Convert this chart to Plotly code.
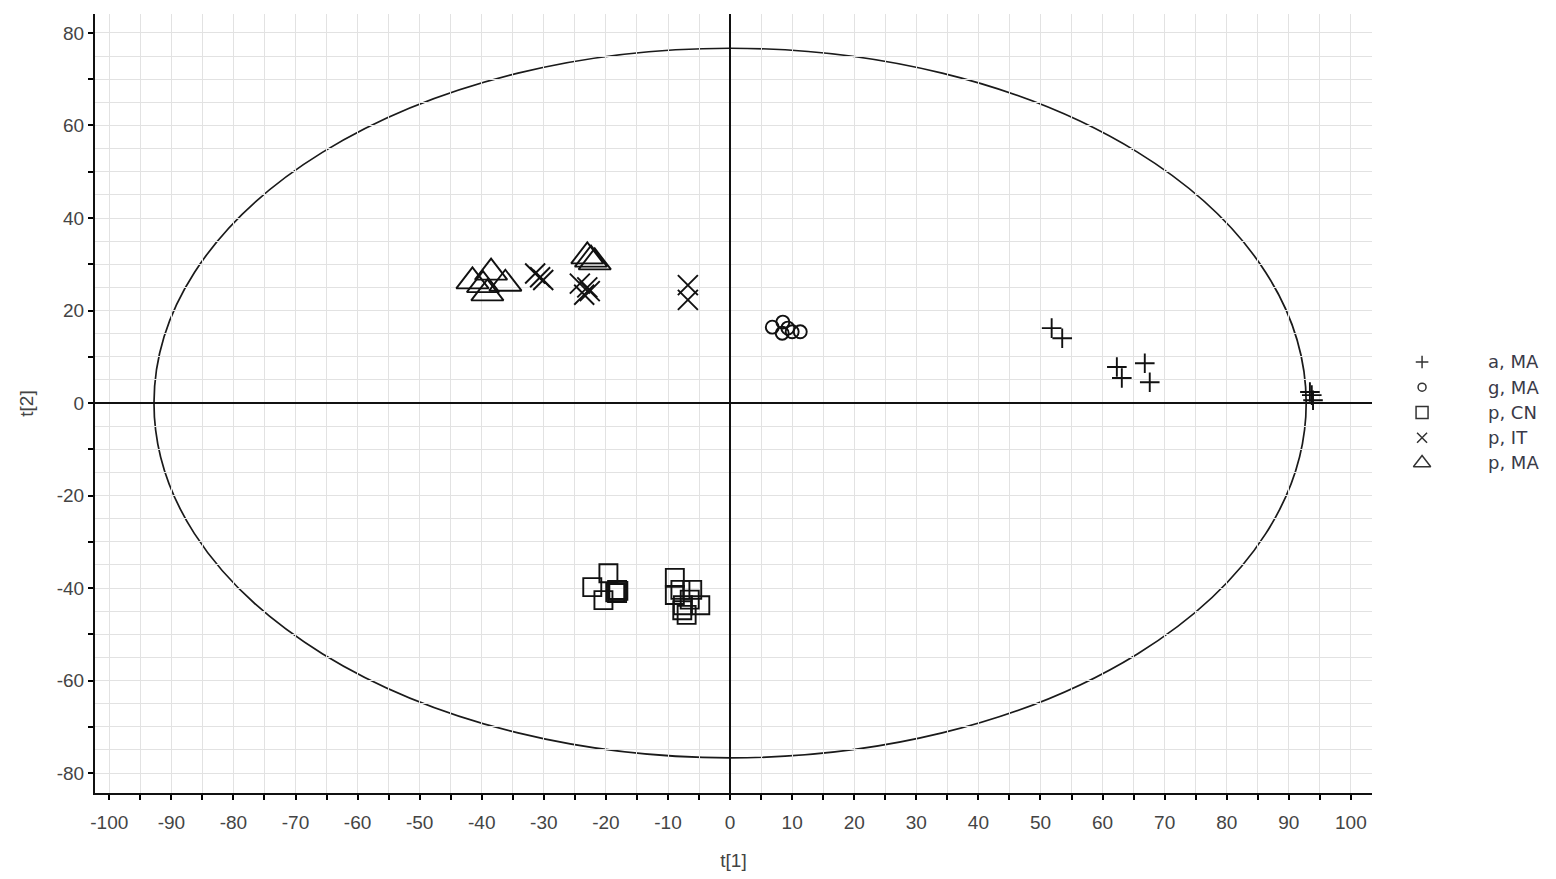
import plotly.graph_objects as go

# ---------------- data ----------------
SERIES_NAMES = ["a, MA", "g, MA", "p, CN", "p, IT", "p, MA"]

a_MA_t1 = [51.8, 53.5, 62.3, 63.1, 66.8, 67.6, 93.4, 93.9, 93.7]
a_MA_t2 = [16.2, 14.0, 7.8, 5.4, 8.6, 4.5, 2.4, 0.6, 1.7]

g_MA_t1 = [6.8, 8.5, 8.4, 10.0, 11.3, 9.3]
g_MA_t2 = [16.4, 17.5, 15.1, 15.4, 15.4, 16.2]

p_CN_t1 = [-19.6, -22.2, -20.4, -18.2, -18.5, -18.2, -18.0,
           -8.9, -8.9, -8.0, -6.1, -4.8, -7.6, -7.0, -7.7, -6.5]
p_CN_t2 = [-36.8, -39.8, -42.6, -40.4, -40.9, -41.1, -40.6,
           -37.8, -41.5, -40.4, -40.4, -43.7, -43.7, -45.8, -44.8, -42.5]

p_IT_t1 = [-31.4, -30.6, -30.1, -24.2, -23.0, -23.5, -22.6, -6.8, -6.8]
p_IT_t2 = [28.0, 27.2, 26.6, 25.8, 25.0, 23.4, 24.2, 25.5, 22.3]

p_MA_t1 = [-41.5, -38.5, -36.2, -39.1, -39.8, -23.0, -22.4, -21.8]
p_MA_t2 = [26.3, 28.2, 25.8, 23.7, 25.5, 31.7, 31.0, 30.4]

ELLIPSE_T1 = 92.8   # Hotelling T2 ellipse semi-axis on t[1]
ELLIPSE_T2 = 76.7   # semi-axis on t[2]

X_TICK_VALUES = list(range(-100, 101, 10))
X_TICK_LABELS = [str(v) for v in X_TICK_VALUES]
Y_TICK_VALUES = list(range(-80, 81, 10))
Y_TICK_LABELS = [str(v) if v % 20 == 0 else "" for v in Y_TICK_VALUES]

# ---------------- styles ----------------
series = [
    (a_MA_t1, a_MA_t2, "cross-thin-open", 14, 9),
    (g_MA_t1, g_MA_t2, "circle-open", 13, 8),
    (p_CN_t1, p_CN_t2, "square-open", 18, 12),
    (p_IT_t1, p_IT_t2, "x-thin-open", 20, 10),
    (p_MA_t1, p_MA_t2, "triangle-up-open", 28, 15),
]

fig = go.Figure()

for (xs, ys, sym, size, _), name in zip(series, SERIES_NAMES):
    fig.add_trace(go.Scatter(
        x=xs, y=ys, mode="markers", name=name, showlegend=False,
        marker=dict(symbol=sym, size=size, color="#111111",
                    line=dict(color="#111111", width=1.9)),
        xaxis="x", yaxis="y", cliponaxis=False,
    ))

# custom legend on an auxiliary hidden axis pair
LEG_X_MARKER = 0.236
LEG_X_TEXT = 0.6
LEG_Y_TOP = 0.5533
LEG_STEP = 0.0324
for i, ((_, _, sym, _, lsize), name) in enumerate(zip(series, SERIES_NAMES)):
    yv = LEG_Y_TOP - i * LEG_STEP
    fig.add_trace(go.Scatter(
        x=[LEG_X_MARKER], y=[yv], mode="markers", showlegend=False,
        marker=dict(symbol=sym, size=lsize, color="#333333",
                    line=dict(color="#333333", width=1.5)),
        xaxis="x2", yaxis="y2", hoverinfo="skip",
    ))
    fig.add_annotation(
        x=LEG_X_TEXT, y=yv, xref="x2", yref="y2", text=name,
        showarrow=False, xanchor="left", yanchor="middle",
        font=dict(family="DejaVu Sans", size=18, color="#3a3a48"),
    )

# confidence ellipse
fig.add_shape(type="circle", xref="x", yref="y",
              x0=-ELLIPSE_T1, x1=ELLIPSE_T1, y0=-ELLIPSE_T2, y1=ELLIPSE_T2,
              line=dict(color="#1a1a1a", width=1.7), layer="below")

tick_font = dict(family="Liberation Sans, Arial", size=19, color="#444444")
title_font = dict(family="Liberation Sans, Arial", size=19, color="#444444")
grid_col = "#e2e2e2"

fig.update_layout(
    width=1556, height=879,
    margin=dict(l=95, r=0, t=14, b=86, pad=0),
    paper_bgcolor="white", plot_bgcolor="white",
    showlegend=False,
    xaxis=dict(
        domain=[0, 1277 / 1461], range=[-102.3, 103.4],
        tickmode="array", tickvals=X_TICK_VALUES, ticktext=X_TICK_LABELS,
        ticks="outside", ticklen=5, tickwidth=1.5, tickcolor="black",
        ticklabelstandoff=6,
        showgrid=True, gridcolor=grid_col, gridwidth=1,
        minor=dict(dtick=5, tick0=0, ticks="outside", ticklen=5, tickwidth=1.5,
                   tickcolor="black", showgrid=True, gridcolor=grid_col),
        zeroline=True, zerolinecolor="#111111", zerolinewidth=1.6,
        showline=True, linecolor="#111111", linewidth=2,
        tickfont=tick_font,
        title=dict(text="t[1]", font=title_font, standoff=22),
        fixedrange=True, anchor="y",
    ),
    yaxis=dict(
        domain=[0, 1], range=[-84.3, 84.1],
        tickmode="array", tickvals=Y_TICK_VALUES, ticktext=Y_TICK_LABELS,
        ticks="outside", ticklen=5, tickwidth=1.5, tickcolor="black",
        showgrid=True, gridcolor=grid_col, gridwidth=1,
        minor=dict(dtick=5, tick0=0, ticks="", showgrid=True, gridcolor=grid_col),
        zeroline=True, zerolinecolor="#111111", zerolinewidth=1.6,
        showline=True, linecolor="#111111", linewidth=2,
        tickfont=tick_font,
        title=dict(text="t[2]", font=title_font, standoff=18),
        fixedrange=True, anchor="x",
    ),
    xaxis2=dict(domain=[0.88, 1.0], range=[0, 1], visible=False,
                anchor="y2", fixedrange=True),
    yaxis2=dict(domain=[0, 1], range=[0, 1], visible=False,
                anchor="x2", fixedrange=True),
)

fig.write_html("out.html")
